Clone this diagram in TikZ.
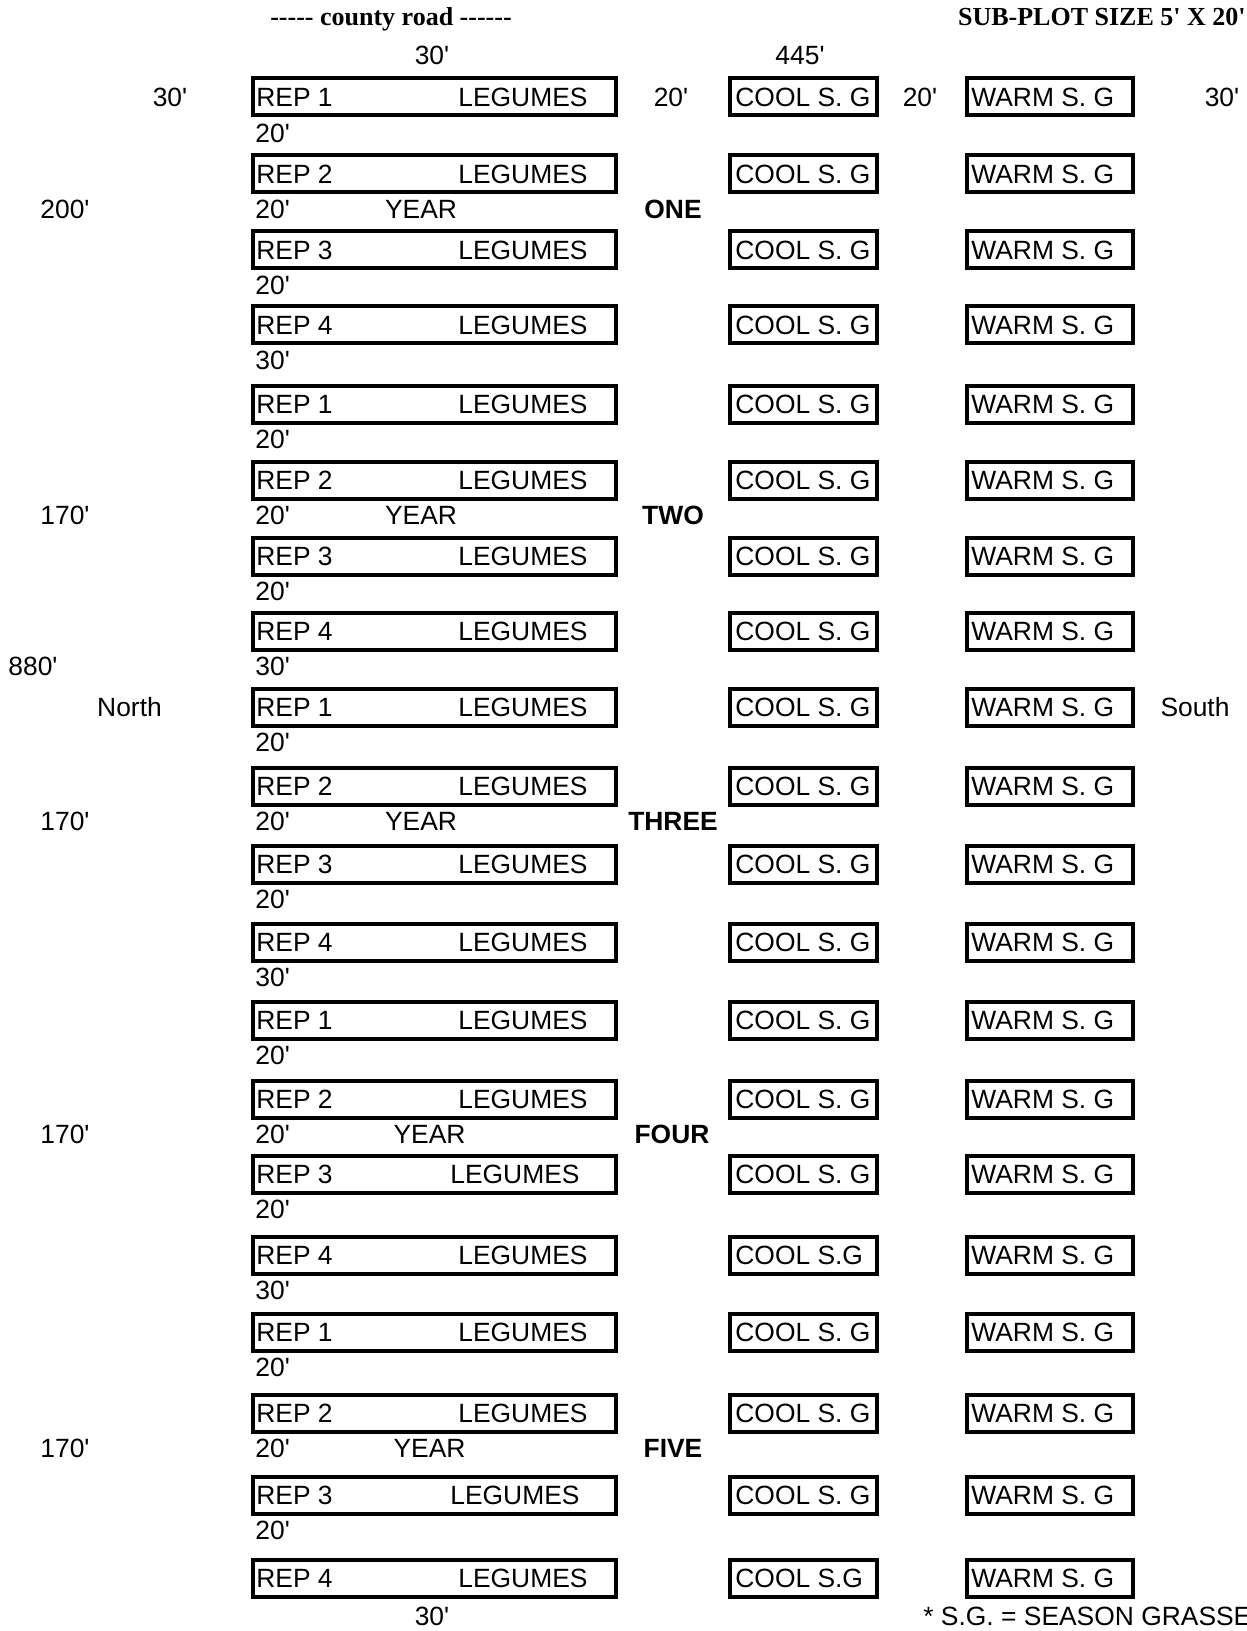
\documentclass[tikz,border=0pt]{standalone}
\usepackage{fontspec}
\newfontfamily\arialf{Liberation Sans}
\newfontfamily\timesf{Liberation Serif}
\newcommand\plotrow[5]{%
  \node[leg]  (L#1) at (434.5,#2) {};
  \node[cool] (C#1) at (803.5,#2) {};
  \node[warm] (W#1) at (1050,#2) {};
  \node[labw] (R#1) at (256,{#2+9.3}) {REP #3};
  \node[labw] (G#1) at (#4,{#2+9.3}) {LEGUMES};
  \node[labw] (T#1) at (735,{#2+9.3}) {#5};
  \node[labw] (H#1) at (971,{#2+9.3}) {WARM S. G};
}
\newcommand\gaplab[3]{\node[labw] (S#1) at (255,{#2+9.3}) {#3};}
\newcommand\ctrlab[4]{\node[lab] (#1) at (#2,{#3+9.3}) {#4};}
\begin{document}
\begin{tikzpicture}[x=0.5pt,y=-0.5pt,
  plot/.style={draw, line width=2pt, inner sep=0pt, minimum height=18.5pt},
  leg/.style={plot, minimum width=181.5pt},
  cool/.style={plot, minimum width=73.5pt},
  warm/.style={plot, minimum width=83pt},
  lab/.style={inner sep=0pt, font=\arialf\fontsize{13.2}{15}\selectfont, anchor=base},
  labw/.style={lab, anchor=base west},
  yearlab/.style={lab, font=\arialf\bfseries\fontsize{13.2}{15}\selectfont},
  title/.style={inner sep=0pt, font=\timesf\bfseries\fontsize{13}{15}\selectfont}]
\useasboundingbox (0,0) rectangle (1246,1631);

% titles
\node[title, anchor=base] (road) at (391,26) {----- county road ------};
\node[title, anchor=base east] (sub) at (1246,26) {SUB-PLOT SIZE 5' X 20'};
\ctrlab{top30}{432}{55}{30'}
\ctrlab{top445}{800}{55}{445'}

% year one
\plotrow{a1}{97}{1}{458}{COOL S. G}
\plotrow{a2}{174}{2}{458}{COOL S. G}
\plotrow{a3}{250}{3}{458}{COOL S. G}
\plotrow{a4}{325}{4}{458}{COOL S. G}
% year two
\plotrow{b1}{404}{1}{458}{COOL S. G}
\plotrow{b2}{480}{2}{458}{COOL S. G}
\plotrow{b3}{556}{3}{458}{COOL S. G}
\plotrow{b4}{631}{4}{458}{COOL S. G}
% year three
\plotrow{c1}{707}{1}{458}{COOL S. G}
\plotrow{c2}{786}{2}{458}{COOL S. G}
\plotrow{c3}{864}{3}{458}{COOL S. G}
\plotrow{c4}{942}{4}{458}{COOL S. G}
% year four
\plotrow{d1}{1020}{1}{458}{COOL S. G}
\plotrow{d2}{1099}{2}{458}{COOL S. G}
\plotrow{d3}{1174}{3}{450}{COOL S. G}
\plotrow{d4}{1255}{4}{458}{COOL S.G}
% year five
\plotrow{e1}{1332}{1}{458}{COOL S. G}
\plotrow{e2}{1413}{2}{458}{COOL S. G}
\plotrow{e3}{1495}{3}{450}{COOL S. G}
\plotrow{e4}{1578}{4}{458}{COOL S.G}

% gap labels
\gaplab{a1}{133}{20'}  \gaplab{a2}{209}{20'}  \gaplab{a3}{285}{20'}  \gaplab{a4}{360}{30'}
\gaplab{b1}{439}{20'}  \gaplab{b2}{515}{20'}  \gaplab{b3}{591}{20'}  \gaplab{b4}{666}{30'}
\gaplab{c1}{742}{20'}  \gaplab{c2}{821}{20'}  \gaplab{c3}{899}{20'}  \gaplab{c4}{977}{30'}
\gaplab{d1}{1055}{20'} \gaplab{d2}{1134}{20'} \gaplab{d3}{1209}{20'} \gaplab{d4}{1290}{30'}
\gaplab{e1}{1367}{20'} \gaplab{e2}{1448}{20'} \gaplab{e3}{1530}{20'}
\ctrlab{bot30}{432}{1616}{30'}
\node[labw] (note) at (923,{1616+9.3}) {* S.G. = SEASON GRASSES};

% year labels
\ctrlab{yr1}{421}{209}{YEAR}
\ctrlab{yr2}{421}{515}{YEAR}
\ctrlab{yr3}{421}{821}{YEAR}
\ctrlab{yr4}{429.5}{1134}{YEAR}
\ctrlab{yr5}{429.5}{1448}{YEAR}
\node[yearlab] (n1) at (673,{209+9.3}) {ONE};
\node[yearlab] (n2) at (673,{515+9.3}) {TWO};
\node[yearlab] (n3) at (673,{821+9.3}) {THREE};
\node[yearlab] (n4) at (672,{1134+9.3}) {FOUR};
\node[yearlab] (n5) at (673,{1448+9.3}) {FIVE};

% side dimensions
\ctrlab{l30}{170}{97}{30'}
\ctrlab{m20a}{671}{97}{20'}
\ctrlab{m20b}{920}{97}{20'}
\ctrlab{r30}{1222}{97}{30'}
\ctrlab{d200}{65}{209}{200'}
\ctrlab{d170a}{65}{515}{170'}
\ctrlab{d880}{33}{666}{880'}
\ctrlab{north}{129.5}{707}{North}
\ctrlab{south}{1195}{707}{South}
\ctrlab{d170b}{65}{821}{170'}
\ctrlab{d170c}{65}{1134}{170'}
\ctrlab{d170d}{65}{1448}{170'}
\end{tikzpicture}
\end{document}
